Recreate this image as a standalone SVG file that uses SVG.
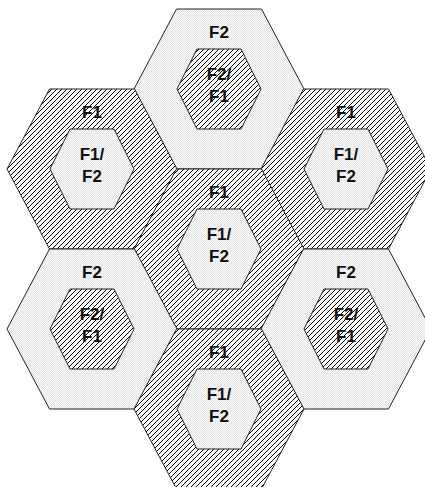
<svg xmlns="http://www.w3.org/2000/svg" xmlns:xlink="http://www.w3.org/1999/xlink" width="425" height="487" viewBox="0 0 425 487">
<defs>
<pattern id="hatch" patternUnits="userSpaceOnUse" width="5" height="5">
<rect width="5" height="5" fill="#ffffff"/>
<path d="M-1,1 L1,-1 M0,5 L5,0 M4,6 L6,4" stroke="#000" stroke-width="1"/>
</pattern>
<pattern id="dots" patternUnits="userSpaceOnUse" width="2" height="2">
<rect width="2" height="2" fill="#f8f8f8"/>
<rect x="0" y="0" width="1" height="1" fill="#e4e4e4"/>
<rect x="1" y="1" width="1" height="1" fill="#e4e4e4"/>
</pattern>
<polygon id="hexO" points="-85,0 -42.5,-80 42.5,-80 85,0 42.5,80 -42.5,80"/>
<polygon id="hexI" points="-42,0 -22,-40 22,-40 42,0 22,40 -22,40"/>
</defs>
<style>
.f1{fill:url(#hatch);stroke:#222;stroke-width:1}
.f2{fill:url(#dots);stroke:#222;stroke-width:1}
.lbl{font-family:"Liberation Sans",Arial,sans-serif;font-weight:bold;font-size:17px;text-anchor:middle;fill:#111}
</style>
<rect width="425" height="487" fill="#ffffff"/>
<g id="cell-top">
<use xlink:href="#hexO" x="219" y="89" class="f2"/>
<use xlink:href="#hexI" x="219" y="89" class="f1"/>
<text class="lbl" x="219" y="38">F2</text>
<text class="lbl" x="219" y="80">F2/</text>
<text class="lbl" x="219" y="102">F1</text>
</g>
<g id="cell-upper-left">
<use xlink:href="#hexO" x="92" y="169" class="f1"/>
<use xlink:href="#hexI" x="92" y="169" class="f2"/>
<text class="lbl" x="92" y="118">F1</text>
<text class="lbl" x="92" y="160">F1/</text>
<text class="lbl" x="92" y="182">F2</text>
</g>
<g id="cell-upper-right">
<use xlink:href="#hexO" x="346" y="169" class="f1"/>
<use xlink:href="#hexI" x="346" y="169" class="f2"/>
<text class="lbl" x="346" y="118">F1</text>
<text class="lbl" x="346" y="160">F1/</text>
<text class="lbl" x="346" y="182">F2</text>
</g>
<g id="cell-center">
<use xlink:href="#hexO" x="219" y="249" class="f1"/>
<use xlink:href="#hexI" x="219" y="249" class="f2"/>
<text class="lbl" x="219" y="198">F1</text>
<text class="lbl" x="219" y="240">F1/</text>
<text class="lbl" x="219" y="262">F2</text>
</g>
<g id="cell-lower-left">
<use xlink:href="#hexO" x="92" y="329" class="f2"/>
<use xlink:href="#hexI" x="92" y="329" class="f1"/>
<text class="lbl" x="92" y="278">F2</text>
<text class="lbl" x="92" y="320">F2/</text>
<text class="lbl" x="92" y="342">F1</text>
</g>
<g id="cell-lower-right">
<use xlink:href="#hexO" x="346" y="329" class="f2"/>
<use xlink:href="#hexI" x="346" y="329" class="f1"/>
<text class="lbl" x="346" y="278">F2</text>
<text class="lbl" x="346" y="320">F2/</text>
<text class="lbl" x="346" y="342">F1</text>
</g>
<g id="cell-bottom">
<use xlink:href="#hexO" x="219" y="409" class="f1"/>
<use xlink:href="#hexI" x="219" y="409" class="f2"/>
<text class="lbl" x="219" y="358">F1</text>
<text class="lbl" x="219" y="400">F1/</text>
<text class="lbl" x="219" y="422">F2</text>
</g>
<g id="connectors"/>
</svg>
